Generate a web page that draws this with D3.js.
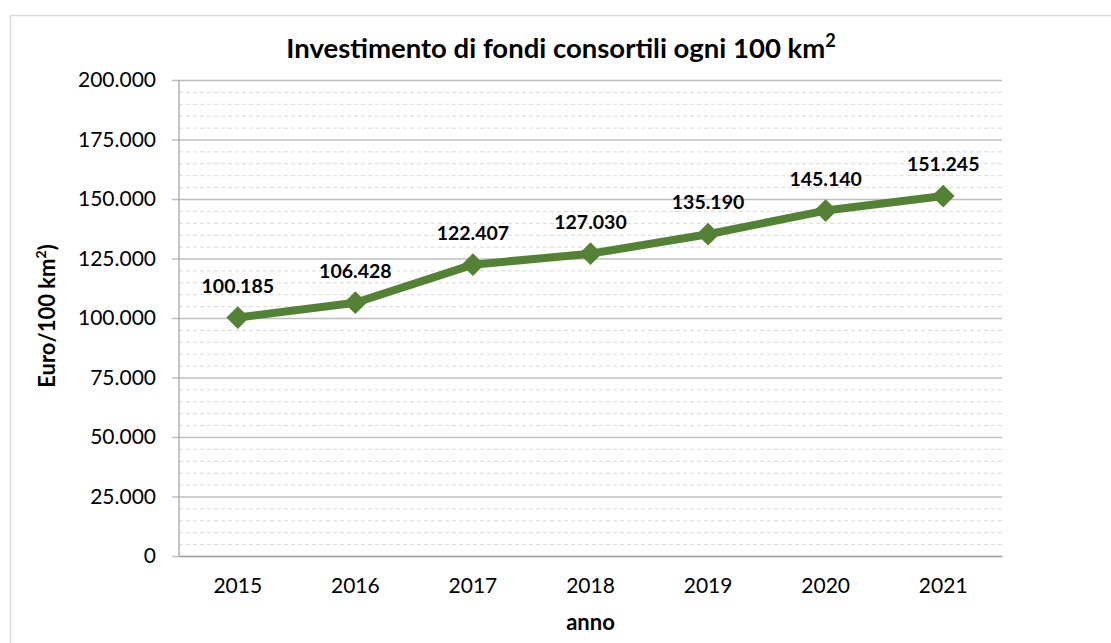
<!DOCTYPE html>
<html><head><meta charset="utf-8">
<script src="https://cdn.jsdelivr.net/npm/d3@7"></script>
<style>body{margin:0;background:#fff;} svg{display:block;} svg text{font-family:Lato,"Open Sans",sans-serif;}</style>
</head><body>
<svg id="c" width="1111" height="643"></svg>
<script>
const years = ["2015","2016","2017","2018","2019","2020","2021"];
const values = [100185,106428,122407,127030,135190,145140,151245];
const yTicks = [0,25000,50000,75000,100000,125000,150000,175000,200000];
const title = "Investimento di fondi consortili ogni 100 km";
const xTitle = "anno";

const svg = d3.select("#c");
const m = {l:179, t:80, r:1002, b:556};
svg.append("rect").attr("x",10.5).attr("y",15.5).attr("width",1120).attr("height",660)
  .attr("fill","none").attr("stroke","#d9d9d9").attr("stroke-width",1.5);

const x = d3.scaleBand().domain(years).range([m.l,m.r]);
const y = d3.scaleLinear().domain([0,200000]).range([m.b,m.t]);
const fmt = d => d===0 ? "0" : d3.format(",")(d).replace(/,/g,".");

const minor = d3.range(0,200001,5000).filter(v=>v%25000!==0);
svg.append("g").selectAll("line").data(minor).join("line")
  .attr("x1",m.l).attr("x2",m.r).attr("y1",d=>y(d)+0.5).attr("y2",d=>y(d)+0.5)
  .attr("stroke","#d9d9d9").attr("stroke-width",1).attr("stroke-dasharray","4,3");

const yAxis = d3.axisLeft(y).tickValues(yTicks).tickSize(m.r-m.l+7).tickPadding(16).tickFormat(fmt);
const gy = svg.append("g").attr("transform",`translate(${m.r},0)`).call(yAxis)
  .attr("font-family",null).attr("font-size",null);
gy.select(".domain").remove();
gy.selectAll(".tick line").attr("stroke","#bfbfbf").attr("stroke-width",1.3);
gy.selectAll(".tick text").attr("font-size",21).attr("fill","#000");

svg.append("line").attr("x1",m.l).attr("x2",m.l).attr("y1",m.t).attr("y2",m.b)
  .attr("stroke","#a6a6a6").attr("stroke-width",1.3);
const xAxis = d3.axisBottom(x).tickSize(0).tickPadding(22);
const gx = svg.append("g").attr("transform",`translate(0,${m.b})`).call(xAxis)
  .attr("font-family",null).attr("font-size",null);
gx.select(".domain").attr("stroke","#a6a6a6").attr("stroke-width",1.5);
gx.selectAll(".tick text").attr("font-size",21).attr("fill","#000");

const cx = (d,i) => x(years[i]) + x.bandwidth()/2;
const line = d3.line().x(cx).y(d=>y(d));
svg.append("path").datum(values).attr("d",line).attr("fill","none")
  .attr("stroke","#548235").attr("stroke-width",8).attr("stroke-linejoin","round");
svg.append("g").selectAll("path").data(values).join("path")
  .attr("d",d3.symbol().type(d3.symbolDiamond2).size(330))
  .attr("transform",(d,i)=>`translate(${cx(d,i)},${y(d)})`)
  .attr("fill","#548235");
svg.append("g").selectAll("text").data(values).join("text")
  .attr("x",cx).attr("y",d=>y(d)-25)
  .attr("text-anchor","middle").attr("font-size",19.5).attr("font-weight","bold")
  .text(fmt);

const t = svg.append("text").attr("x",561).attr("y",58).attr("text-anchor","middle")
  .attr("font-size",27.5).attr("font-weight","bold").text(title);
t.append("tspan").attr("dy",-11).attr("font-size",18).text("2");

svg.append("text").attr("x",(m.l+m.r)/2).attr("y",630).attr("text-anchor","middle")
  .attr("font-size",22).attr("font-weight","bold").text(xTitle);
const yt = svg.append("text").attr("transform","translate(55,316) rotate(-90)")
  .attr("text-anchor","middle").attr("font-size",22).attr("font-weight","bold").text("Euro/100 km");
yt.append("tspan").attr("dy",-9).attr("font-size",14).text("2");
yt.append("tspan").attr("dy",9).text(")");
</script>
</body></html>
